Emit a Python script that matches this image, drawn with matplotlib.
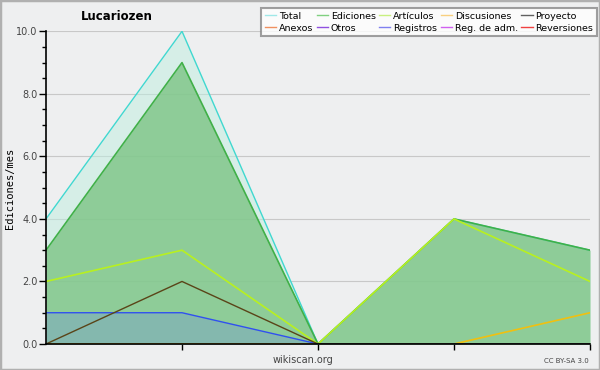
import numpy as np
import matplotlib
matplotlib.use('Agg')
import matplotlib.pyplot as plt
from matplotlib.patches import Rectangle
from matplotlib.ticker import MultipleLocator

# monthly edits, 5 months
months = [0, 1, 2, 3, 4]
total = [4, 10, 0, 4, 3]
ediciones = [3, 9, 0, 4, 3]
articulos = [2, 3, 0, 4, 2]
discusiones = [0, 0, 0, 0, 1]
proyecto = [0, 2, 0, 0, 0]
anexos = [0, 0, 0, 0, 0]
otros = [0, 0, 0, 0, 0]
registros = [1, 1, 0, 0, 0]
reg_adm = [0, 0, 0, 0, 0]
reversiones = [0, 0, 0, 0, 0]

bg = '#eeeff0'
fig = plt.figure(figsize=(6, 3.7), dpi=100, facecolor=bg)
ax = fig.add_axes([46/600, 26/370, 544/600, 312.7/370], facecolor=bg)

# filled areas
ax.fill_between(months, total, color='#bfeee0', alpha=0.5, lw=0)
ax.fill_between(months, ediciones, color='#7cc484', alpha=0.8, lw=0)
ax.fill_between(months, registros, color='#6a80f0', alpha=0.25, lw=0)

# lines
ax.plot(months, anexos, color='#f08040', lw=1)
ax.plot(months, otros, color='#8040e0', lw=1)
ax.plot(months, reg_adm, color='#e040f0', lw=1)
ax.plot(months, reversiones, color='#f03030', lw=1)
ax.plot(months, total, color='#40d8d0', lw=1)
ax.plot(months, ediciones, color='#40b048', lw=1.2)
ax.plot(months, articulos, color='#b8f020', lw=1.2)
ax.plot(months, discusiones, color='#f0c010', lw=1.2)
ax.plot(months, registros, color='#3050f0', lw=1)
ax.plot(months, proyecto, color='#5a4418', lw=1)

ax.set_xlim(0, 4)
ax.set_ylim(0, 10)
ax.yaxis.set_major_locator(MultipleLocator(2))
ax.yaxis.set_minor_locator(MultipleLocator(0.5))
ax.set_yticklabels([f'{v:.1f}' for v in ax.get_yticks()])
ax.set_xticks(months[1:])
ax.set_xticklabels([])
ax.tick_params(axis='y', which='major', length=5, width=1, labelsize=7, labelcolor='#444444', pad=1)
ax.tick_params(axis='y', which='minor', length=3, width=1)
ax.tick_params(axis='x', length=4, width=1)
ax.grid(axis='y', color='#c8c8c8', lw=0.8)
ax.set_axisbelow(True)
for s in ['top', 'right']:
    ax.spines[s].set_visible(False)
ax.spines['left'].set_linewidth(1.2)
ax.spines['bottom'].set_linewidth(1.2)

fig.text(10/600, 1-188/370, 'Ediciones/mes', family='DejaVu Sans Mono', fontsize=7.5,
         rotation=90, ha='center', va='center')
fig.text(117/600, 1-16/370, 'Lucariozen', fontsize=8.5, fontweight='bold', ha='center', va='center')
fig.text(303/600, 1-360/370, 'wikiscan.org', fontsize=7, color='#444444', ha='center', va='center')
fig.text(589/600, 1-361/370, 'CC BY-SA 3.0', fontsize=5, color='#444444', ha='right', va='center')

# legend (column-major order for 5 columns)
names = ['Total', 'Anexos', 'Ediciones', 'Otros', 'Artículos', 'Registros',
         'Discusiones', 'Reg. de adm.', 'Proyecto', 'Reversiones']
cols = ['#a0e8e8', '#f09060', '#80d080', '#9050e0', '#c8f080', '#8080f0',
        '#f8d080', '#d060f0', '#606060', '#f04040']
handles = [plt.Line2D([], [], color=c, lw=1) for c in cols]
leg = fig.legend(handles, names, ncol=5, loc='upper right',
                 bbox_to_anchor=(597/600, 1-8/370), fontsize=6.8,
                 frameon=True, fancybox=False, handlelength=1.2,
                 handletextpad=0.3, columnspacing=0.35, labelspacing=0.3,
                 borderpad=0.4, borderaxespad=0)
leg.get_frame().set_edgecolor('#888888')
leg.get_frame().set_linewidth(1.5)

fig.patches.append(Rectangle((0, 0), 1, 1, transform=fig.transFigure,
                             fill=False, edgecolor='#b0b0b0', lw=2.5))

fig.savefig('out.png', dpi=100, facecolor=bg)
